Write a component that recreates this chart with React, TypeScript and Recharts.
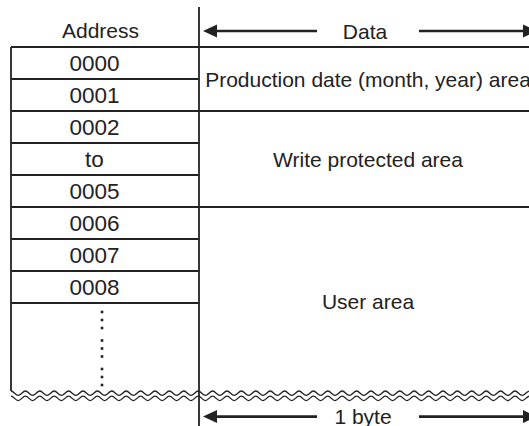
import React from 'react';
import { ComposedChart, XAxis, YAxis, ReferenceArea, ReferenceLine } from 'recharts';

// ---------- content ----------
const addressHeader = 'Address';
const dataHeader = 'Data';
const byteLabel = '1 byte';
const addressRows = ['0000', '0001', '0002', 'to', '0005', '0006', '0007', '0008'];
const areaLabels = ['Production date (month, year) area', 'Write protected area', 'User area'];
const areaStartRows = [0, 2, 5];
const areaEndRows = [2, 5, 10.9];
const breakRow = 10.9; // where the map is broken off (wavy lines)
const ellipsisGroups = 3; // stacked vertical ellipses below 0008

// ---------- layout ----------
const W = 529;
const H = 426;
const X_MIN = 0;
const X_MAX = 529;
const Y_MIN = -47 / 32;
const Y_MAX = 379 / 32;
const ADDR_LEFT = 11;
const DIVIDER = 199;
const DATA_RIGHT = 537;
const HEADER_ROW = -1;
const TOP_ROW = -1.25;
const BYTE_ROW = 11.55;
const ADDR_TEXT_DX = -10.5;
const HEADER_TEXT_DX = -4.5;

const INK = '#222222';
const LINE_W = 1.8;
const FONT = '"Liberation Sans", Arial, Helvetica, sans-serif';
const FS = 21;
const FS_ADDR = 22.5;

const textProps = {
  textAnchor: 'middle' as const,
  dominantBaseline: 'central' as const,
  fontFamily: FONT,
  fill: INK,
};

const cellText = (label: string, fs: number, dx = 0, dy = 0) => (p: any) => (
  <text x={p.x + p.width / 2 + dx} y={p.y + p.height / 2 + dy} fontSize={fs} {...textProps}>
    {label}
  </text>
);

const arrowBand = (label: string, textDx: number) => (p: any) => {
  const cy = p.y + p.height / 2;
  const cx = p.x + p.width / 2;
  const gap = 51;
  const head = 14;
  const half = 6.5;
  const lt = p.x + 4;
  const rt = p.x + p.width;
  return (
    <g>
      <line x1={lt + head - 1} y1={cy} x2={cx - gap} y2={cy} stroke={INK} strokeWidth={2.6} />
      <polygon points={`${lt},${cy} ${lt + head},${cy - half} ${lt + head},${cy + half}`} fill={INK} />
      <line x1={cx + gap} y1={cy} x2={rt - head + 1} y2={cy} stroke={INK} strokeWidth={2.6} />
      <polygon points={`${rt},${cy} ${rt - head},${cy - half} ${rt - head},${cy + half}`} fill={INK} />
      <text x={cx + textDx} y={cy} fontSize={FS} {...textProps}>
        {label}
      </text>
    </g>
  );
};

const waveShape = (p: any) => {
  const period = 14.4;
  const amp = 2.2;
  const h = period / 2;
  const build = (cy: number) => {
    let d = `M${p.x},${cy - amp}`;
    let x = p.x;
    let up = true;
    while (x < p.x + p.width) {
      const y0 = up ? cy - amp : cy + amp;
      const y1 = up ? cy + amp : cy - amp;
      d += ` C${x + h * 0.3642},${y0} ${x + h * 0.6358},${y1} ${x + h},${y1}`;
      x += h;
      up = !up;
    }
    return d;
  };
  const cy = p.y + p.height / 2;
  return (
    <g fill="none" stroke={INK} strokeWidth={1.3}>
      <path d={build(cy - 2.6)} />
      <path d={build(cy + 2.6)} />
    </g>
  );
};

const ellipsisShape = (p: any) => {
  const cx = p.x + p.width / 2;
  const dots: React.ReactNode[] = [];
  for (let g = 0; g < ellipsisGroups; g++) {
    for (let i = 0; i < 3; i++) {
      const y = p.y + 9 + g * 28.5 + i * 8;
      dots.push(<rect key={`${g}-${i}`} x={cx - 1.3} y={y - 1.3} width={2.6} height={2.6} fill={INK} />);
    }
  }
  return <g>{dots}</g>;
};

const seg = (x1: number, y1: number, x2: number, y2: number, key: string) => (
  <ReferenceLine
    key={key}
    segment={[{ x: x1, y: y1 }, { x: x2, y: y2 }]}
    stroke={INK}
    strokeWidth={LINE_W}
    ifOverflow="visible"
  />
);

export default function App() {
  const lines: React.ReactNode[] = [];
  // header bottom
  lines.push(seg(ADDR_LEFT, 0, X_MAX, 0, 'hdr'));
  // address row separators
  addressRows.forEach((_, i) => {
    lines.push(seg(ADDR_LEFT, i + 1, DIVIDER, i + 1, `row-${i}`));
  });
  // area separators
  areaEndRows.slice(0, -1).forEach((r, i) => {
    lines.push(seg(DIVIDER, r, X_MAX, r, `area-${i}`));
  });
  // left border and divider
  lines.push(seg(ADDR_LEFT, 0, ADDR_LEFT, breakRow - 0.15, 'left'));
  lines.push(seg(DIVIDER, TOP_ROW, DIVIDER, Y_MAX, 'div'));

  return (
    <div style={{ position: 'absolute', left: 0, top: 0, width: W, height: H, background: '#fff' }}>
      <ComposedChart width={W} height={H} data={[]} margin={{ top: 0, right: 0, bottom: 0, left: 0 }}>
        <XAxis type="number" dataKey="x" domain={[X_MIN, X_MAX]} allowDataOverflow hide />
        <YAxis type="number" dataKey="y" domain={[Y_MIN, Y_MAX]} allowDataOverflow reversed hide />

        {/* header */}
        <ReferenceArea x1={ADDR_LEFT} x2={DIVIDER} y1={HEADER_ROW} y2={0} ifOverflow="visible"
          shape={cellText(addressHeader, FS, HEADER_TEXT_DX, -0.5)} />
        <ReferenceArea x1={DIVIDER} x2={DATA_RIGHT} y1={HEADER_ROW} y2={0} ifOverflow="visible"
          shape={arrowBand(dataHeader, -3)} />

        {/* address cells */}
        {addressRows.map((a, i) => (
          <ReferenceArea key={a + i} x1={ADDR_LEFT} x2={DIVIDER} y1={i} y2={i + 1} ifOverflow="visible"
            shape={cellText(a, FS_ADDR, ADDR_TEXT_DX)} />
        ))}

        {/* data areas */}
        {areaLabels.map((l, i) => (
          <ReferenceArea key={l} x1={DIVIDER} x2={DATA_RIGHT} y1={areaStartRows[i]} y2={areaEndRows[i]}
            ifOverflow="visible" shape={cellText(l, FS)} />
        ))}

        {/* ellipsis below last address */}
        <ReferenceArea x1={100} x2={104} y1={addressRows.length} y2={breakRow} ifOverflow="visible"
          shape={ellipsisShape} />

        {lines}

        {/* break lines */}
        <ReferenceArea x1={ADDR_LEFT} x2={DATA_RIGHT} y1={breakRow - 0.15} y2={breakRow + 0.15}
          ifOverflow="visible" shape={waveShape} />

        {/* byte width */}
        <ReferenceArea x1={DIVIDER} x2={DATA_RIGHT} y1={BYTE_ROW - 0.5} y2={BYTE_ROW + 0.5}
          ifOverflow="visible" shape={arrowBand(byteLabel, -5)} />
      </ComposedChart>
    </div>
  );
}
